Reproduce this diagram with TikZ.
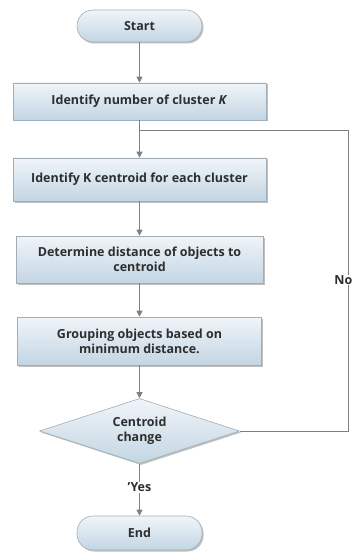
\documentclass[tikz,border=0pt]{standalone}
\usepackage{fontspec}
\setmainfont{Open Sans}
\usetikzlibrary{shapes.geometric,shadows,arrows.meta}
\definecolor{boxtop}{HTML}{F0F5F9}
\definecolor{boxbot}{HTML}{C3D5E3}
\definecolor{edgec}{HTML}{A3ADB5}
\definecolor{linec}{HTML}{808080}
\definecolor{textc}{HTML}{2E2E2E}
\begin{document}
\begin{tikzpicture}[x=1pt,y=-1pt,
  every node/.style={font=\bfseries\fontsize{12.5}{15}\selectfont, text=textc},
  boxstyle/.style={draw=edgec, line width=0.6pt, top color=boxtop, bottom color=boxbot,
    align=center, inner sep=2pt,
    drop shadow={shadow xshift=1.5pt, shadow yshift=-1.5pt, fill=black, opacity=0.25}},
  termstyle/.style={boxstyle, rounded corners=16pt},
  decstyle/.style={boxstyle, diamond, aspect=3, inner sep=0pt},
  conn/.style={draw=linec, line width=0.9pt, -{Triangle[length=6pt,width=6pt]}},
  plain/.style={draw=linec, line width=0.9pt},
  lbl/.style={fill=white, inner sep=1pt}]
\useasboundingbox (0,0) rectangle (353,556);
\clip (0,0) rectangle (353,556);

\node[termstyle, minimum width=125pt, minimum height=32pt] (start) at (139.5,26) {Start};
\node[boxstyle, minimum width=253pt, minimum height=37pt] (b1) at (139.5,101.5) {Identify number of cluster \textit{K}};
\node[boxstyle, minimum width=253pt, minimum height=43pt] (b2) at (139.5,179.5) {Identify K centroid for each cluster};
\node[boxstyle, minimum width=247pt, minimum height=47pt] (b3) at (139.5,259.5) {Determine distance of objects to\\centroid};
\node[boxstyle, minimum width=244pt, minimum height=48pt] (b4) at (139.5,341) {Grouping objects based on\\minimum distance.};
\node[decstyle, minimum width=200pt, minimum height=65pt] (dec) at (139.5,431) {Centroid\\change};
\node[termstyle, minimum width=125pt, minimum height=34pt] (end) at (139.5,533) {End};

\coordinate (join) at (139.5,130);
\coordinate (corner) at (348,130);

\draw[conn] (start) -- (b1);
\draw[conn] (b1) -- (b2);
\draw[conn] (b2) -- (b3);
\draw[conn] (b3) -- (b4);
\draw[conn] (b4) -- (dec);
\draw[conn] (dec) -- node[lbl, pos=0.45] (yes) {'Yes} (end);
\draw[plain] (dec.east) -- (dec.east -| corner) -- (corner) -- (join);
\node[lbl, anchor=east, inner sep=0.5pt] (no) at (353,280) {No};
\end{tikzpicture}
\end{document}
